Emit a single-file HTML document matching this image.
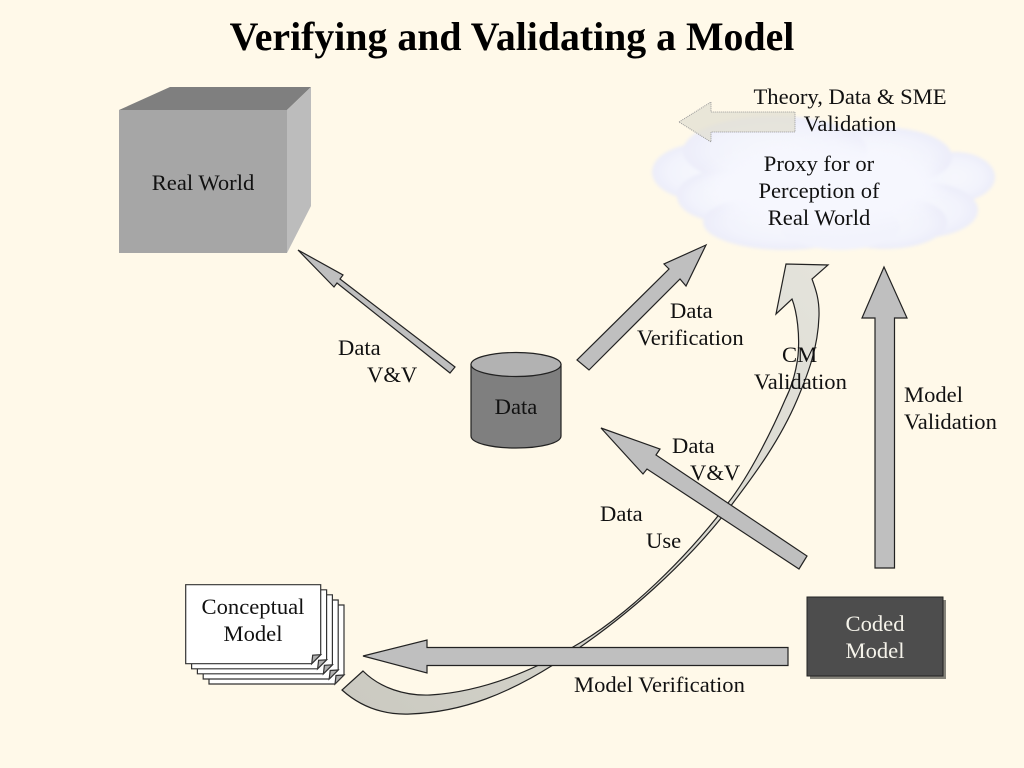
<!DOCTYPE html>
<html>
<head>
<meta charset="utf-8">
<style>
html,body{margin:0;padding:0;background:#fff9e9;}
svg{display:block;}
text{font-family:"Liberation Serif",serif;font-size:22.6px;fill:#111;}
.c{text-anchor:middle;}
.a{fill:#bfbfbf;stroke:#222;stroke-width:1.2;stroke-linejoin:miter;}
</style>
</head>
<body>
<svg width="1024" height="768" viewBox="0 0 1024 768" xmlns="http://www.w3.org/2000/svg">
<defs>
<radialGradient id="lobe" cx="50%" cy="50%" r="50%">
<stop offset="0%" stop-color="#f6f7fd"/>
<stop offset="70%" stop-color="#f2f3fc"/>
<stop offset="100%" stop-color="#ecedf9"/>
</radialGradient>
<linearGradient id="curve" gradientUnits="userSpaceOnUse" x1="350" y1="700" x2="820" y2="270">
<stop offset="0%" stop-color="#cbcac1"/>
<stop offset="100%" stop-color="#e4e3db"/>
</linearGradient>
<filter id="soft" x="-10%" y="-10%" width="120%" height="120%"><feGaussianBlur stdDeviation="1.5"/></filter>
<filter id="softer" x="-20%" y="-20%" width="140%" height="140%"><feGaussianBlur stdDeviation="8"/></filter>
</defs>
<rect width="1024" height="768" fill="#fff9e9"/>

<text class="c" x="512" y="50" style="font-size:39.8px;font-weight:bold;fill:#000">Verifying and Validating a Model</text>

<!-- Cube -->
<polygon points="119,110 170,87 311,87 287,110" fill="#7f7f7f"/>
<polygon points="287,110 311,87 311,206 287,253" fill="#bcbcbc"/>
<rect x="119" y="110" width="168" height="143" fill="#a6a6a6"/>
<text class="c" x="203" y="190">Real World</text>

<!-- Cloud -->
<g filter="url(#soft)">
<ellipse cx="705" cy="172" rx="53" ry="29" fill="url(#lobe)"/>
<ellipse cx="955" cy="177" rx="40" ry="25" fill="url(#lobe)"/>
<ellipse cx="880" cy="157" rx="72" ry="30" fill="url(#lobe)"/>
<ellipse cx="775" cy="151" rx="92" ry="35" fill="url(#lobe)"/>
<ellipse cx="725" cy="196" rx="48" ry="26" fill="url(#lobe)"/>
<ellipse cx="920" cy="210" rx="58" ry="28" fill="url(#lobe)"/>
<ellipse cx="885" cy="222" rx="62" ry="27" fill="url(#lobe)"/>
<ellipse cx="785" cy="222" rx="82" ry="28" fill="url(#lobe)"/>
<ellipse cx="840" cy="226" rx="60" ry="24" fill="#f2f3fc"/>
</g>
<ellipse cx="825" cy="185" rx="115" ry="42" fill="#f6f7fe" filter="url(#softer)"/>

<!-- Faint arrow -->
<polygon points="679,122 711,102 711,112 795,112 795,132 711,132 711,142" fill="#e2dfd2" fill-opacity="0.75" stroke="#999" stroke-width="1" stroke-dasharray="1,1"/>

<text class="c" x="850" y="104">Theory, Data &amp; SME</text>
<text class="c" x="850" y="131">Validation</text>
<text class="c" x="819" y="171">Proxy for or</text>
<text class="c" x="819" y="198">Perception of</text>
<text class="c" x="819" y="225">Real World</text>

<!-- Curved arrow -->
<path d="M342,690 C362,708 385,715 410,714 C465,712 510,692 553,665 C625,620 690,560 733,503 C755,474 780,440 797,400 C808,374 818,348 819,316 C819.5,300 816,290 812,279 L828,265 L786,264 L776,314 L792,299 C797,312 800,335 798,356 C796,372 791,388 785,400 C773,428 750,475 728,503 C688,556 628,616 573,647 C530,672 480,692 430,695 C405,696 380,688 363,671 Z" fill="url(#curve)" stroke="#222" stroke-width="1.2"/>

<!-- Arrows -->
<polygon class="a" points="298,250 343,275 340,279 455,367 450,373 337,283 334,287"/>
<polygon class="a" points="706,245 664,264 669,269 577,360 589,370 680,279 686,286"/>
<polygon class="a" points="601,428 660,449 656,455 807,556 799,569 647,469 643,474"/>
<polygon class="a" points="884,267 907,318 894.5,318 894.5,568 875,568 875,318 862,318"/>
<polygon class="a" points="363,656 427,640 427,647.5 788,647.5 788,665.5 427,665.5 427,673"/>

<!-- Cylinder -->
<path d="M471,364.5 V436 C471,443 491,448 516,448 C541,448 561,443 561,436 V364.5 Z" fill="#7f7f7f" stroke="#222" stroke-width="1.2"/>
<ellipse cx="516" cy="364.5" rx="45" ry="12" fill="#b2b2b2" stroke="#222" stroke-width="1.2"/>
<text class="c" x="516" y="414">Data</text>

<!-- Coded Model -->
<rect x="810" y="600" width="136" height="79" fill="#85837a"/>
<rect x="807" y="597" width="136" height="79" fill="#4d4d4d" stroke="#222" stroke-width="1"/>
<text class="c" x="875" y="631" style="fill:#f5f3ea">Coded</text>
<text class="c" x="875" y="658" style="fill:#f5f3ea">Model</text>

<!-- Conceptual Model stack -->
<g fill="#fff" stroke="#333" stroke-width="1.2">
<g transform="translate(209,605)"><path d="M0,0H135V70L126,79H0Z"/><path d="M126,79L135,70L127,70.5Z" fill="#b0b0b0"/></g>
<g transform="translate(203.2,600)"><path d="M0,0H135V70L126,79H0Z"/><path d="M126,79L135,70L127,70.5Z" fill="#b0b0b0"/></g>
<g transform="translate(197.4,594.8)"><path d="M0,0H135V70L126,79H0Z"/><path d="M126,79L135,70L127,70.5Z" fill="#b0b0b0"/></g>
<g transform="translate(191.6,589.8)"><path d="M0,0H135V70L126,79H0Z"/><path d="M126,79L135,70L127,70.5Z" fill="#b0b0b0"/></g>
<g transform="translate(185.7,584.7)"><path d="M0,0H135V70L126,79H0Z"/><path d="M126,79L135,70L127,70.5Z" fill="#b0b0b0"/></g>
</g>
<text class="c" x="253" y="614">Conceptual</text>
<text class="c" x="253" y="641">Model</text>

<!-- Labels -->
<text x="338" y="355">Data</text>
<text x="367" y="382">V&amp;V</text>
<text x="670" y="318">Data</text>
<text x="637" y="345">Verification</text>
<text x="782" y="362">CM</text>
<text x="754" y="389">Validation</text>
<text x="904" y="402">Model</text>
<text x="904" y="429">Validation</text>
<text x="672" y="453">Data</text>
<text x="690" y="480">V&amp;V</text>
<text x="600" y="521">Data</text>
<text x="646" y="548">Use</text>
<text x="574" y="692">Model Verification</text>
</svg>
</body>
</html>
